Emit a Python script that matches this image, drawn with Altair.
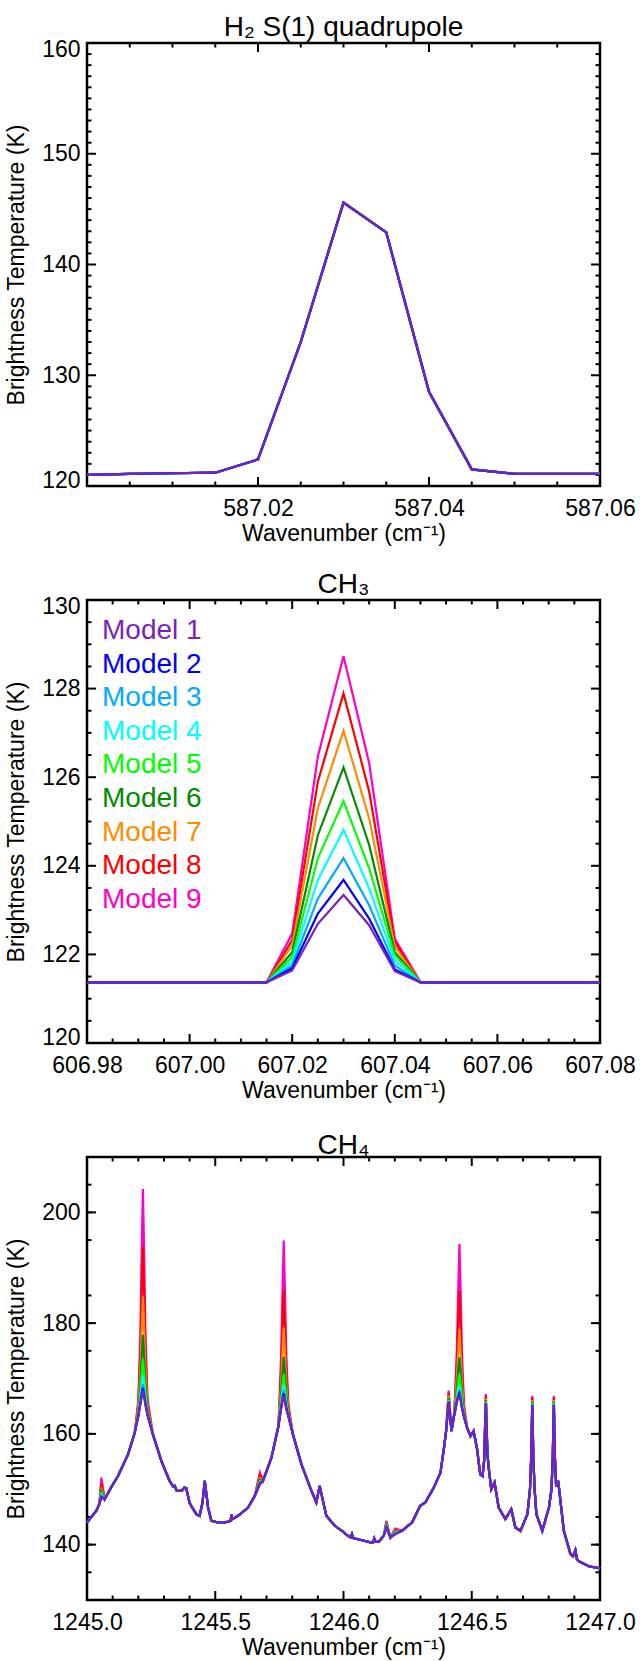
import altair as alt
import pandas as pd

FONT = "Liberation Sans"
MODELS = ["Model 1", "Model 2", "Model 3", "Model 4", "Model 5",
          "Model 6", "Model 7", "Model 8", "Model 9"]
COLORS = ["#7b1fc2", "#0000ff", "#00aaff", "#00ffff", "#00ff00",
          "#008b00", "#ff8c00", "#ff0000", "#ff00c8"]

# ---------------- Panel 1: H2 S(1) quadrupole (identical for all models)
wn1 = [587.000, 587.005, 587.010, 587.015, 587.020, 587.025, 587.030,
       587.035, 587.040, 587.045, 587.050, 587.055, 587.060]
tb1 = [121.0, 121.1, 121.15, 121.2, 122.4, 133.0, 145.6,
       142.9, 128.5, 121.5, 121.1, 121.1, 121.1]

# ---------------- Panel 2: CH3
wn2 = [606.980, 606.985, 606.990, 606.995, 607.000, 607.005, 607.010,
       607.015, 607.020, 607.025, 607.030, 607.035, 607.040, 607.045,
       607.050, 607.055, 607.060, 607.065, 607.070, 607.075, 607.080]
tb2_base = [121.37] * len(wn2)
ch3_models = {
    607.020: [121.64, 121.69, 121.75, 121.83, 121.94, 122.05, 122.20, 122.32, 122.47],
    607.025: [122.69, 122.92, 123.26, 123.68, 124.17, 124.69, 125.30, 125.90, 126.47],
    607.030: [123.34, 123.68, 124.17, 124.81, 125.46, 126.22, 127.05, 127.89, 128.73],
    607.035: [122.66, 122.81, 123.11, 123.49, 123.94, 124.47, 125.07, 125.68, 126.32],
    607.040: [121.62, 121.66, 121.75, 121.86, 121.98, 122.05, 122.17, 122.28, 122.35],
}

# ---------------- Panel 3: CH4 (Model 1 spectrum, other models differ at line cores)
wn3 = [1245.000, 1245.036, 1245.048, 1245.056, 1245.069, 1245.095, 1245.121,
       1245.160, 1245.186, 1245.200, 1245.208, 1245.213, 1245.218, 1245.223,
       1245.228, 1245.236, 1245.257, 1245.290, 1245.322, 1245.336, 1245.342,
       1245.350, 1245.368, 1245.380, 1245.387, 1245.400, 1245.426, 1245.439,
       1245.450, 1245.459, 1245.466, 1245.472, 1245.485, 1245.511, 1245.537,
       1245.560, 1245.563, 1245.566, 1245.589, 1245.628, 1245.654, 1245.674,
       1245.686, 1245.719, 1245.745, 1245.749, 1245.757, 1245.762, 1245.767,
       1245.772, 1245.777, 1245.785, 1245.803, 1245.836, 1245.875, 1245.894,
       1245.907, 1245.920, 1245.933, 1245.966, 1245.994, 1246.011, 1246.028,
       1246.033, 1246.038, 1246.072, 1246.105, 1246.115, 1246.120, 1246.125,
       1246.137, 1246.157, 1246.167, 1246.183, 1246.202, 1246.228, 1246.267,
       1246.299, 1246.319, 1246.352, 1246.378, 1246.391, 1246.400, 1246.410,
       1246.421, 1246.430, 1246.434, 1246.442, 1246.447, 1246.452, 1246.457,
       1246.462, 1246.470, 1246.482, 1246.495, 1246.507, 1246.520, 1246.533,
       1246.542, 1246.548, 1246.555, 1246.561, 1246.566, 1246.576, 1246.589,
       1246.605, 1246.631, 1246.654, 1246.670, 1246.690, 1246.717, 1246.727,
       1246.732, 1246.736, 1246.740, 1246.745, 1246.752, 1246.775, 1246.801,
       1246.811, 1246.816, 1246.820, 1246.824, 1246.829, 1246.837, 1246.859,
       1246.885, 1246.895, 1246.904, 1246.910, 1246.917, 1246.956, 1247.000]
tb3_base = [144.0, 146.1, 147.3, 148.5, 148.2, 150.4, 152.4,
            156.3, 160.2, 163.2, 165.3, 166.6, 167.8, 166.5,
            165.2, 163.4, 159.9, 155.1, 151.5, 150.5, 150.6,
            149.7, 149.7, 150.3, 150.2, 147.5, 145.5, 145.2,
            147.5, 151.5, 149.0, 146.7, 144.3, 144.0, 144.0,
            144.3, 145.4, 144.6, 145.2, 146.7, 148.8, 150.9,
            151.5, 155.7, 161.1, 162.2, 164.6, 165.8, 166.9,
            165.7, 164.5, 163.2, 159.9, 154.5, 149.7, 147.6,
            150.6, 147.9, 145.2, 143.4, 142.5, 141.8, 141.3,
            141.9, 141.2, 140.8, 140.4, 140.4, 141.1, 140.5,
            140.5, 141.6, 143.1, 141.3, 141.9, 142.5, 144.0,
            147.0, 147.6, 150.3, 153.0, 157.2, 160.5, 165.7,
            160.5, 163.0, 163.8, 165.8, 166.5, 167.0, 165.9,
            164.6, 163.0, 161.1, 159.6, 160.5, 157.5, 152.7,
            152.4, 155.0, 165.4, 156.5, 153.9, 150.0, 151.2,
            146.7, 144.6, 146.4, 143.1, 142.5, 145.5, 150.0,
            156.0, 165.1, 156.0, 150.0, 145.5, 142.5, 146.7,
            150.0, 156.0, 165.1, 156.0, 150.5, 151.5, 142.5,
            138.3, 137.9, 139.0, 137.4, 137.0, 136.1, 135.7]
ch4_models = {
    1245.056: [148.5, 148.6, 148.8, 149.0, 149.3, 149.7, 150.3, 151.0, 152.1],
    1245.200: [163.2, 163.2, 163.3, 163.4, 163.7, 164.0, 164.6, 165.3, 166.1],
    1245.208: [165.3, 165.5, 165.7, 166.2, 167.3, 168.8, 171.3, 174.4, 178.0],
    1245.213: [166.6, 167.0, 167.5, 168.5, 170.6, 173.7, 178.5, 184.8, 192.1],
    1245.218: [167.8, 168.3, 169.0, 170.5, 173.5, 177.9, 184.8, 193.8, 204.2],
    1245.223: [166.5, 166.9, 167.4, 168.4, 170.5, 173.6, 178.4, 184.7, 192.0],
    1245.228: [165.2, 165.4, 165.6, 166.1, 167.2, 168.7, 171.2, 174.3, 177.9],
    1245.236: [163.4, 163.4, 163.5, 163.6, 163.9, 164.2, 164.8, 165.5, 166.3],
    1245.674: [150.9, 151.0, 151.1, 151.2, 151.4, 151.7, 152.0, 152.5, 153.0],
    1245.749: [162.2, 162.2, 162.3, 162.4, 162.5, 162.8, 163.2, 163.7, 164.4],
    1245.757: [164.6, 164.7, 165.0, 165.3, 166.0, 167.1, 168.9, 171.3, 174.4],
    1245.762: [165.8, 166.1, 166.5, 167.2, 168.5, 170.7, 174.4, 179.2, 185.4],
    1245.767: [166.9, 167.3, 167.9, 168.9, 170.8, 173.9, 179.2, 186.1, 194.9],
    1245.772: [165.7, 166.0, 166.4, 167.1, 168.4, 170.6, 174.3, 179.1, 185.3],
    1245.777: [164.5, 164.6, 164.9, 165.2, 165.9, 167.0, 168.8, 171.2, 174.3],
    1245.785: [163.2, 163.2, 163.3, 163.4, 163.5, 163.8, 164.2, 164.7, 165.4],
    1246.167: [143.1, 143.1, 143.2, 143.3, 143.4, 143.6, 143.8, 144.0, 144.3],
    1246.202: [141.9, 141.9, 142.0, 142.1, 142.2, 142.3, 142.5, 142.7, 142.9],
    1246.410: [165.7, 165.8, 165.9, 166.0, 166.2, 166.5, 166.9, 167.3, 167.8],
    1246.434: [163.8, 163.8, 163.9, 163.9, 164.1, 164.3, 164.8, 165.3, 166.0],
    1246.442: [165.8, 165.9, 166.1, 166.4, 167.1, 168.2, 170.0, 172.4, 175.4],
    1246.447: [166.5, 166.7, 167.1, 167.7, 169.2, 171.3, 174.8, 179.7, 185.6],
    1246.452: [167.0, 167.3, 167.8, 168.7, 170.8, 173.8, 178.9, 185.8, 194.3],
    1246.457: [165.9, 166.1, 166.5, 167.1, 168.6, 170.7, 174.2, 179.1, 185.0],
    1246.462: [164.6, 164.7, 164.9, 165.2, 165.9, 167.0, 168.8, 171.2, 174.2],
    1246.470: [163.0, 163.0, 163.1, 163.1, 163.3, 163.5, 164.0, 164.5, 165.2],
    1246.555: [165.4, 165.5, 165.6, 165.7, 165.9, 166.1, 166.4, 166.8, 167.2],
    1246.736: [165.1, 165.2, 165.3, 165.4, 165.6, 165.8, 166.1, 166.5, 166.9],
    1246.820: [165.1, 165.2, 165.3, 165.4, 165.6, 165.8, 166.1, 166.5, 166.9],
}


def long_table(wn, base, per_model):
    rows = []
    for i, m in enumerate(MODELS):
        for w, t in zip(wn, base):
            vals = per_model.get(w)
            rows.append({"wn": w, "tb": vals[i] if vals else t, "model": m})
    return pd.DataFrame(rows)


df1 = long_table(wn1, tb1, {})
df2 = long_table(wn2, tb2_base, ch3_models)
df3 = long_table(wn3, tb3_base, ch4_models)

W, H = 513, 443
MAJ, MIN = 9, 4.5
cscale = alt.Scale(domain=MODELS, range=COLORS)


def label_axis(values, fmt, title, orient, label_pad, title_pad, label_offset=0):
    return alt.Axis(values=values, format=fmt, title=title, orient=orient,
                    ticks=False, tickSize=0, domain=False, grid=False,
                    labelFlush=False, labelOverlap=False, labelPadding=label_pad,
                    labelOffset=label_offset, titlePadding=title_pad,
                    labelFontSize=23, titleFontSize=23, labelFont=FONT,
                    titleFont=FONT, labelColor="black", titleColor="black",
                    titleFontWeight="normal")


def frame_and_ticks(xs, ys, xdom, ydom, xmaj, xmin, ymaj, ymin):
    """Black plot frame plus inward-pointing ticks on all four sides."""
    out = []
    box = pd.DataFrame({"x0": [xdom[0]], "x1": [xdom[1]], "y0": [ydom[0]], "y1": [ydom[1]]})
    out.append(alt.Chart(box).mark_rect(filled=False, stroke="black", strokeWidth=2.5).encode(
        x=alt.X("x0:Q", scale=xs, axis=None), x2="x1:Q",
        y=alt.Y("y0:Q", scale=ys, axis=None), y2="y1:Q"))
    for vals, L in ((xmaj, MAJ), (xmin, MIN)):
        d = pd.DataFrame({"v": vals})
        for y0, y1 in ((H, H - L), (0, L)):
            out.append(alt.Chart(d).mark_rule(color="black", strokeWidth=2).encode(
                x=alt.X("v:Q", scale=xs, axis=None),
                y=alt.value(y0), y2=alt.value(y1)))
    for vals, L in ((ymaj, MAJ), (ymin, MIN)):
        d = pd.DataFrame({"v": vals})
        for x0, x1 in ((0, L), (W, W - L)):
            out.append(alt.Chart(d).mark_rule(color="black", strokeWidth=2).encode(
                y=alt.Y("v:Q", scale=ys, axis=None),
                x=alt.value(x0), x2=alt.value(x1)))
    return out


def panel(df, title, xdom, ydom, xlab, xfmt, ylab, xmaj, xmin, ymaj, ymin, legend=False):
    xs = alt.Scale(domain=xdom, nice=False, zero=False)
    ys = alt.Scale(domain=ydom, nice=False, zero=False)
    y_off = {"condition": [{"test": f"datum.value == {ydom[0]}", "value": -6},
                           {"test": f"datum.value == {ydom[1]}", "value": 6}],
             "value": 0}
    xaxis = label_axis(xlab, xfmt, "Wavenumber (cm⁻¹)", "bottom", 11, 2)
    yaxis = label_axis(ylab, "d", "Brightness Temperature (K)", "left", 7, 13, y_off)
    layers = frame_and_ticks(xs, ys, xdom, ydom, xmaj, xmin, ymaj, ymin)
    for k, m in enumerate(reversed(MODELS)):
        layers.append(
            alt.Chart(df[df["model"] == m]).mark_line(strokeWidth=2.2).encode(
                x=alt.X("wn:Q", scale=xs, axis=xaxis if k == 0 else None),
                y=alt.Y("tb:Q", scale=ys, axis=yaxis if k == 0 else None),
                color=alt.Color("model:N", scale=cscale, legend=None),
                order=alt.Order("wn:Q")))
    if legend:
        leg = pd.DataFrame({"model": MODELS, "idx": list(range(len(MODELS)))})
        layers.append(
            alt.Chart(leg).mark_text(align="left", baseline="middle", fontSize=28,
                                     font=FONT).encode(
                x=alt.value(15),
                y=alt.Y("ly:Q", scale=None, axis=None),
                text="model:N",
                color=alt.Color("model:N", scale=cscale, legend=None),
            ).transform_calculate(ly="31 + datum.idx * 33.6"))
    t = alt.TitleParams(text=title, fontSize=28, font=FONT, fontWeight="normal",
                        color="black", anchor="middle", offset=4, dy=8)
    return alt.layer(*layers).resolve_axis(x="independent", y="independent").properties(
        width=W, height=H, title=t)


p1 = panel(df1, "H₂ S(1) quadrupole", [587.0, 587.06], [120, 160],
           [587.02, 587.04, 587.06], ".2f", [120, 130, 140, 150, 160],
           [587.00, 587.02, 587.04, 587.06],
           [587.0 + 0.005 * i for i in range(13) if i % 4],
           [120, 130, 140, 150, 160],
           [120 + i for i in range(41) if i % 10])
p2 = panel(df2, "CH₃", [606.98, 607.08], [120, 130],
           [606.98, 607.0, 607.02, 607.04, 607.06, 607.08], ".2f",
           [120, 122, 124, 126, 128, 130],
           [606.98 + 0.02 * i for i in range(6)],
           [606.98 + 0.005 * i for i in range(21) if i % 4],
           [120, 122, 124, 126, 128, 130],
           [120 + 0.5 * i for i in range(21) if i % 4], legend=True)
p3 = panel(df3, "CH₄", [1245.0, 1247.0], [130, 210],
           [1245.0, 1245.5, 1246.0, 1246.5, 1247.0], ".1f", [140, 160, 180, 200],
           [1245.0, 1245.5, 1246.0, 1246.5, 1247.0],
           [1245.0 + 0.1 * i for i in range(21) if i % 5],
           [140, 160, 180, 200],
           [130 + 5 * i for i in range(17) if i % 4])

chart = alt.vconcat(p1, p2, p3, spacing=114, bounds="flush").properties(
    padding={"left": 5, "top": 13, "right": 0, "bottom": 0},
    background="white",
)

chart.save("out.html", embed_options={"renderer": "svg", "actions": False})
